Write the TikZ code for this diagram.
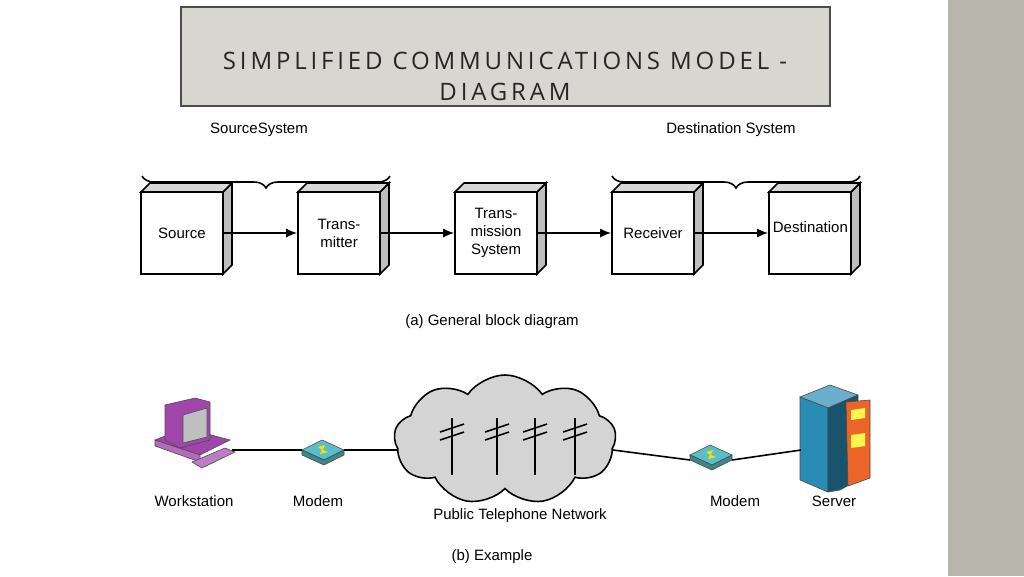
\documentclass[tikz,border=0pt]{standalone}
\usepackage{fontspec}
\setmainfont{Liberation Sans}
\newfontfamily\titlefont[LetterSpace=16]{Open Sans}
\usetikzlibrary{positioning,shapes.symbols,decorations.pathreplacing,arrows.meta}
\definecolor{stripgray}{RGB}{184,182,172}
\definecolor{titlegray}{RGB}{216,214,208}
\definecolor{boxside}{RGB}{190,190,190}
\definecolor{wspurple}{RGB}{160,70,170}
\definecolor{srvblue}{RGB}{40,140,180}
\definecolor{srvorange}{RGB}{235,100,40}
\definecolor{modemteal}{RGB}{90,190,200}
\begin{document}
\begin{tikzpicture}[x=1pt,y=-1pt,font=\fontsize{15}{18}\selectfont,line width=1.6pt]

%
% Styles
%
\tikzstyle{block} = [rectangle,draw,fill=white,minimum width=82pt,minimum height=82pt,align=center,inner sep=0pt]
\tikzstyle{label} = [inner sep=1pt]
\tikzstyle{link} = [-{Latex[length=11pt,width=9pt]}]
\tikzstyle{thin line} = [line width=0.6pt,draw=black!70]

\useasboundingbox (0,0) rectangle (1024,576);
\fill[white] (0,0) rectangle (1024,576);
\fill[stripgray] (948,0) rectangle (1024,576);

% title
\node[draw=black!70,fill=titlegray,minimum width=649pt,minimum height=99pt] (title) at (505.5,56.5) {};
\node[font=\titlefont\fontsize{24}{31}\selectfont,text=black!85,align=center] at (505,76) {SIMPLIFIED COMMUNICATIONS MODEL -\\DIAGRAM};

% blocks
\foreach \name/\x/\txt in {src/182/Source, tx/339/Trans-\\mitter, sys/496/Trans-\\mission\\System, rx/653/Receiver, dst/810/{}}{
  \fill[boxside,draw=black] (\x+41,192) -- ++(9,-9) -- ++(0,82) -- ++(-9,9) -- cycle;
  \fill[boxside!60,draw=black] (\x-41,192) -- ++(9,-9) -- ++(82,0) -- ++(-9,9) -- cycle;
  \node[block] (\name) at (\x,233) {\txt};
}
\node[anchor=east] at (852,227) {Destination};

\draw[link] (src) -- (tx);
\draw[link] (tx) -- (sys);
\draw[link] (sys) -- (rx);
\draw[link] (rx) -- (dst);

% braces
\draw[decorate,decoration={brace,mirror,amplitude=12pt}] (142,176) -- (390,176);
\draw[decorate,decoration={brace,mirror,amplitude=12pt}] (612,176) -- (860,176);
\node[label] at (259,130) {SourceSystem};
\node[label] at (731,130) {Destination System};
\node[label] at (492,322) {(a) General block diagram};

% example
\node[cloud,cloud puffs=9,cloud puff arc=110,aspect=1.8,draw,fill=black!17,minimum width=222pt,minimum height=130pt] (net) at (505,440) {};
\foreach \x in {452,497,535,575}{
  \draw (\x,418) -- (\x,475);
  \draw (\x-12,432) -- (\x+12,424);
  \draw (\x-12,440) -- (\x+12,432);
}
\coordinate (netl) at (397,450);
\coordinate (netr) at (613,450);

\coordinate (ws) at (232,450);
\coordinate (srv) at (801,450);
% workstation
\fill[wspurple,thin line] (155,440) -- (185,428) -- (230,440) -- (200,455) -- cycle;
\fill[wspurple!80,thin line] (155,440) -- (155,446) -- (200,462) -- (200,455) -- cycle;
\fill[wspurple,thin line] (165,405) -- (195,398) -- (210,402) -- (210,440) -- (180,448) -- (165,440) -- cycle;
\fill[black!25,thin line] (183,415) -- (207,408) -- (207,437) -- (183,443) -- cycle;
\fill[wspurple!70,thin line] (192,462) -- (225,448) -- (235,452) -- (202,468) -- cycle;
% modems
\foreach \name/\x/\y in {ml/322/450, mr/710/455}{
  \fill[modemteal,thin line] (\x-20,\y) -- (\x,\y-10) -- (\x+22,\y) -- (\x+2,\y+10) -- cycle;
  \fill[modemteal!70!black,thin line] (\x-20,\y) -- (\x-20,\y+5) -- (\x+2,\y+15) -- (\x+22,\y+5) -- (\x+22,\y) -- (\x+2,\y+10) -- cycle;
  \fill[yellow!80!orange] (\x-4,\y-3) -- (\x+3,\y-5) -- (\x+1,\y) -- (\x+6,\y+2) -- (\x-2,\y+4) -- (\x,\y) -- cycle;
  \coordinate (\name) at (\x,\y);
}
% server
\fill[srvblue!70!white,thin line] (800,397) -- (830,385) -- (858,395) -- (828,408) -- cycle;
\fill[srvblue,thin line] (800,397) -- (828,408) -- (828,492) -- (800,480) -- cycle;
\fill[srvblue!60!black,thin line] (828,408) -- (858,395) -- (858,480) -- (840,490) -- (828,492) -- cycle;
\fill[srvorange,thin line] (846,402) -- (870,400) -- (870,478) -- (848,486) -- cycle;
\fill[yellow!70] (851,410) -- (865,408) -- (865,418) -- (851,420) -- cycle;
\fill[yellow!70] (851,435) -- (865,433) -- (865,446) -- (851,448) -- cycle;

\draw (ws) -- ([xshift=-20pt]ml);
\draw ([xshift=22pt]ml) -- (netl);
\draw (netr) -- ([xshift=-20pt,yshift=-5pt]mr);
\draw ([xshift=22pt,yshift=-5pt]mr) -- (srv);

\node[label] at (194,501) {Workstation};
\node[label] at (318,501) {Modem};
\node[label] at (520,516) {Public Telephone Network};
\node[label] at (735,501) {Modem};
\node[label] at (834,501) {Server};
\node[label] at (492,557) {(b) Example};

\end{tikzpicture}
\end{document}
